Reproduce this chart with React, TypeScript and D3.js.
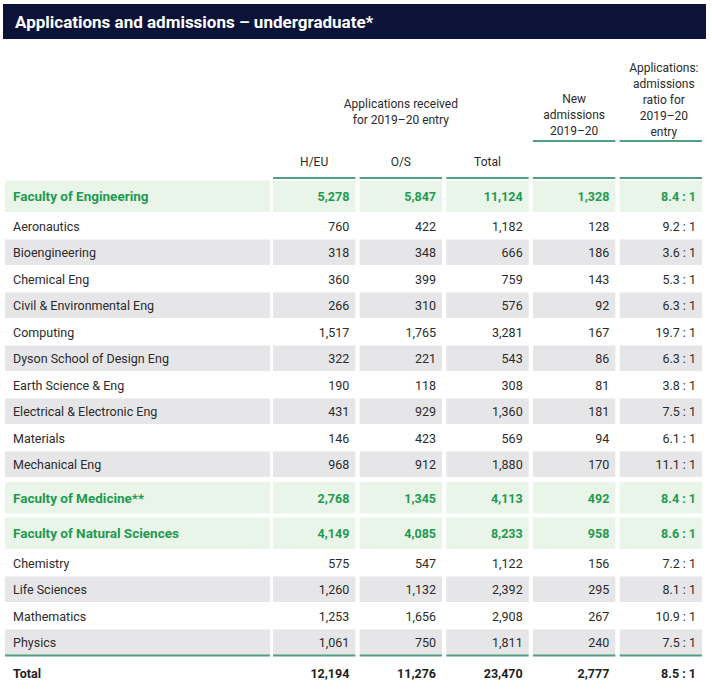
import React from "react";
import * as d3 from "d3";

const title = "Applications and admissions \u2013 undergraduate*";

const rowNames = [
  "Faculty of Engineering",
  "Aeronautics",
  "Bioengineering",
  "Chemical Eng",
  "Civil & Environmental Eng",
  "Computing",
  "Dyson School of Design Eng",
  "Earth Science & Eng",
  "Electrical & Electronic Eng",
  "Materials",
  "Mechanical Eng",
  "Faculty of Medicine**",
  "Faculty of Natural Sciences",
  "Chemistry",
  "Life Sciences",
  "Mathematics",
  "Physics",
  "Total",
];

const rowTypes = [
  "fac", "sub", "sub", "sub", "sub", "sub", "sub", "sub", "sub", "sub", "sub",
  "fac", "fac", "sub", "sub", "sub", "sub", "total",
];

const homeEU = [5278, 760, 318, 360, 266, 1517, 322, 190, 431, 146, 968, 2768, 4149, 575, 1260, 1253, 1061, 12194];
const overseas = [5847, 422, 348, 399, 310, 1765, 221, 118, 929, 423, 912, 1345, 4085, 547, 1132, 1656, 750, 11276];
const totals = [11124, 1182, 666, 759, 576, 3281, 543, 308, 1360, 569, 1880, 4113, 8233, 1122, 2392, 2908, 1811, 23470];
const newAdmissions = [1328, 128, 186, 143, 92, 167, 86, 81, 181, 94, 170, 492, 958, 156, 295, 267, 240, 2777];
const ratios = [8.4, 9.2, 3.6, 5.3, 6.3, 19.7, 6.3, 3.8, 7.5, 6.1, 11.1, 8.4, 8.6, 7.2, 8.1, 10.9, 7.5, 8.5];

const columnKeys = ["heu", "os", "total", "new", "ratio"];
const columnHeaders = ["H/EU", "O/S", "Total", "", ""];

const NAVY = "#0b1438";
const GREEN_TEXT = "#1f9a50";
const GREEN_BG = "#eaf5ea";
const GREY_BG = "#e6e6e9";
const GREEN_LINE = "#4f9f80";
const TEXT = "#2b2b2b";
const FONT = "Roboto, 'Noto Sans', sans-serif";

export default function App() {
  const W = 712;
  const H = 697;
  const x = d3.scaleBand<string>().domain(columnKeys).range([273, 702]).paddingInner(0.05);
  const labelX0 = 5;
  const labelX1 = 270;
  const fmt = d3.format(",");
  const fmtR = d3.format(".1f");

  // row layout
  const rows: { y: number; h: number; type: string; name: string; vals: string[]; grey: boolean }[] = [];
  let y = 180;
  let subIdx = 0;
  rowNames.forEach((name, i) => {
    const type = rowTypes[i];
    let h = 0;
    if (type === "fac") {
      if (i > 0 && rowTypes[i - 1] === "sub") y += 4;
      if (i > 0 && rowTypes[i - 1] === "fac") y += 3;
      h = 32.5;
      subIdx = 0;
    } else if (type === "sub") {
      h = 26.5;
    } else {
      h = 34;
    }
    const grey = type === "sub" && subIdx % 2 === 1;
    if (type === "sub") subIdx++;
    rows.push({
      y,
      h,
      type,
      name,
      grey,
      vals: [
        fmt(homeEU[i]),
        fmt(overseas[i]),
        fmt(totals[i]),
        fmt(newAdmissions[i]),
        fmtR(ratios[i]) + " : 1",
      ],
    });
    y += h;
  });

  const lastSub = rows[rows.length - 2];
  const totalLineY = lastSub.y + lastSub.h - 1;

  const segs = [{ x0: labelX0, x1: labelX1 }, ...columnKeys.map((k) => ({ x0: x(k)!, x1: x(k)! + x.bandwidth() }))];
  const valueSegs = segs.slice(1);

  return (
    <svg
      width={W}
      height={H}
      style={{ position: "absolute", left: 0, top: 0, background: "#fff" }}
      fontFamily={FONT}
    >
      <rect x={0} y={0} width={W} height={H} fill="#fff" />
      {/* title bar */}
      <rect x={3} y={4} width={703} height={35} fill={NAVY} />
      <text x={15} y={27.5} fill="#fff" fontSize={17} fontWeight={700}>
        {title}
      </text>

      {/* header group texts */}
      <g fill={TEXT} fontSize={12} textAnchor="middle">
        <text x={x("os")! + x.bandwidth() / 2} y={107.5}>Applications received</text>
        <text x={x("os")! + x.bandwidth() / 2} y={123.5}>for  2019–20 entry</text>
        <text x={x("new")! + x.bandwidth() / 2} y={102.5}>New</text>
        <text x={x("new")! + x.bandwidth() / 2} y={119}>admissions</text>
        <text x={x("new")! + x.bandwidth() / 2} y={135}>2019–20</text>
        {["Applications:", "admissions", "ratio for", "2019–20", "entry"].map((t, i) => (
          <text key={t} x={x("ratio")! + x.bandwidth() / 2 + 3} y={71.5 + i * 16}>
            {t}
          </text>
        ))}
        {columnKeys.map((k, i) =>
          columnHeaders[i] ? (
            <text key={k} x={x(k)! + x.bandwidth() / 2} y={166}>
              {columnHeaders[i]}
            </text>
          ) : null
        )}
      </g>
      {/* underline under new admissions / ratio headers */}
      {["new", "ratio"].map((k) => (
        <rect key={k} x={x(k)!} y={140} width={x.bandwidth()} height={2} fill={GREEN_LINE} />
      ))}
      {/* header lines above first row */}
      {valueSegs.map((s, i) => (
        <rect key={i} x={s.x0} y={177} width={s.x1 - s.x0} height={2} fill={GREEN_LINE} />
      ))}

      {/* rows */}
      {rows.map((r, i) => {
        const bg = r.type === "fac" ? GREEN_BG : r.grey ? GREY_BG : null;
        const cy = r.y + r.h / 2;
        const isFac = r.type === "fac";
        const isTotal = r.type === "total";
        const color = isFac ? GREEN_TEXT : isTotal ? "#1e1e1e" : TEXT;
        const weight = isFac || isTotal ? 700 : 400;
        return (
          <g key={i}>
            {bg &&
              segs.map((s, j) => (
                <rect key={j} x={s.x0} y={r.y + 0.5} width={s.x1 - s.x0} height={r.h - 1} fill={bg} />
              ))}
            <text
              x={13}
              y={cy + 5}
              fill={color}
              fontWeight={weight}
              fontSize={isFac ? 13.5 : 12.5}
            >
              {r.name}
            </text>
            {r.vals.map((v, j) => (
              <text
                key={j}
                x={x(columnKeys[j])! + x.bandwidth() - 6}
                y={cy + 5}
                textAnchor="end"
                fill={color}
                fontWeight={weight}
                fontSize={isFac ? 12.5 : 12.5}
              >
                {v}
              </text>
            ))}
          </g>
        );
      })}

      {/* line above total */}
      {segs.map((s, i) => (
        <rect key={i} x={s.x0} y={totalLineY} width={s.x1 - s.x0} height={2} fill={GREEN_LINE} />
      ))}
    </svg>
  );
}
